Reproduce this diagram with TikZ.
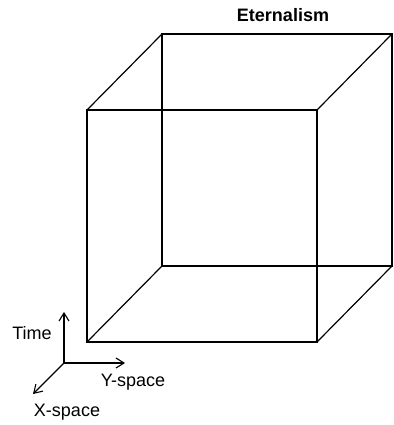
\documentclass[tikz,border=0pt]{standalone}
\usepackage{fontspec}
\setmainfont{Liberation Sans}
\usetikzlibrary{arrows.meta}
\tikzset{
  edge/.style={line width=1.2pt, line join=miter},
  axis/.style={line width=1.1pt, -{Straight Barb[length=8pt,width=10pt,line width=1.1pt]}},
  lbl/.style={font=\fontsize{18}{21}\selectfont, inner sep=0pt},
}
\begin{document}
\begin{tikzpicture}[x=1pt,y=1pt]
    \useasboundingbox (0,0) rectangle (393,425);

    % cube corners
    \coordinate (fbl) at (87,83);
    \coordinate (ftl) at (87,315);
    \coordinate (ftr) at (317,315);
    \coordinate (fbr) at (317,83);
    \coordinate (bbl) at (162,159);
    \coordinate (btl) at (162,391);
    \coordinate (btr) at (392,391);
    \coordinate (bbr) at (392,159);

    % back face
    \draw[edge] (bbl) -- (btl) -- (btr) -- (bbr) -- cycle;
    % front face
    \draw[edge] (fbl) -- (ftl) -- (ftr) -- (fbr) -- cycle;
    % connecting edges
    \draw[edge] (fbl) -- (bbl);
    \draw[edge] (ftl) -- (btl);
    \draw[edge] (ftr) -- (btr);
    \draw[edge] (fbr) -- (bbr);

    % title
    \node[lbl, font=\fontsize{18}{21}\selectfont\bfseries] (title) at (283,410) {Eternalism};

    % axes
    \coordinate (o) at (64,62);
    \coordinate (ttip) at (64,113);
    \coordinate (ytip) at (125,62);
    \coordinate (xtip) at (33,31);
    \draw[axis] (o) -- (ttip);
    \draw[axis] (o) -- (ytip);
    \draw[axis] (o) -- (xtip);

    % labels
    \node[lbl] (time) at (32,92) {Time};
    \node[lbl] (yspace) at (133,43) {Y-space};
    \node[lbl] (xspace) at (67,13) {X-space};
\end{tikzpicture}
\end{document}
